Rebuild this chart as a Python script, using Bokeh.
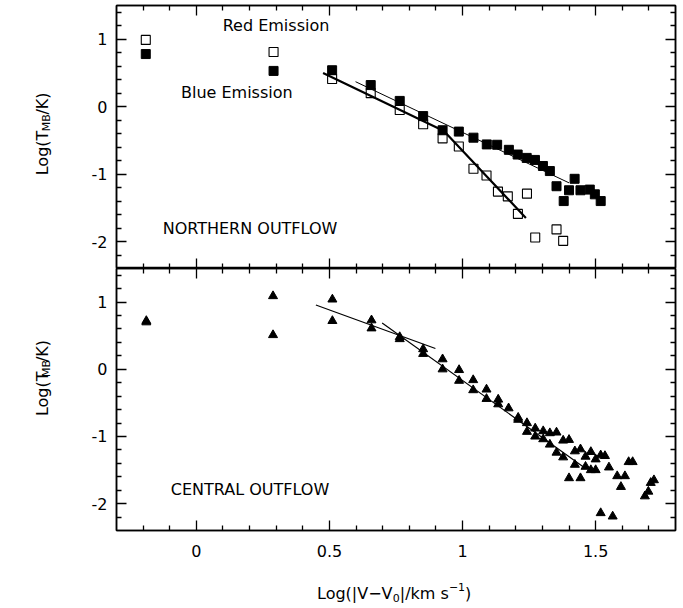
from bokeh.plotting import figure
from bokeh.layouts import column, row
from bokeh.models import LinearAxis, FixedTicker, Label, CustomJSTickFormatter, Range1d
from bokeh.embed import file_html
from bokeh.resources import INLINE

# ---------------- data ----------------
north_open_x = [-0.19, 0.29, 0.51, 0.655, 0.764, 0.852, 0.925, 0.986, 1.041, 1.09,
                1.133, 1.17, 1.208, 1.242, 1.273, 1.353, 1.378]
north_open_y = [0.99, 0.81, 0.41, 0.20, -0.05, -0.26, -0.47, -0.59, -0.92, -1.02,
                -1.26, -1.33, -1.59, -1.29, -1.94, -1.82, -1.99]

north_filled_x = [-0.19, 0.29, 0.51, 0.655, 0.764, 0.852, 0.925, 0.986, 1.041, 1.091,
                  1.13, 1.174, 1.207, 1.241, 1.272, 1.302, 1.328, 1.353, 1.38, 1.40,
                  1.421, 1.443, 1.478, 1.497, 1.519]
north_filled_y = [0.78, 0.53, 0.54, 0.32, 0.085, -0.14, -0.35, -0.37, -0.46, -0.56,
                  -0.565, -0.64, -0.71, -0.76, -0.79, -0.88, -0.955, -1.18, -1.40, -1.24,
                  -1.07, -1.24, -1.23, -1.30, -1.40]

north_open_fit_x = [0.476, 0.93, 1.238]
north_open_fit_y = [0.50, -0.36, -1.65]
north_filled_fit_x = [0.598, 1.40]
north_filled_fit_y = [0.37, -1.13]

central_x = [-0.188, -0.188, 0.288, 0.288, 0.511, 0.511, 0.658, 0.658, 0.764, 0.764,
             0.852, 0.852, 0.925, 0.925, 0.987, 0.987, 1.04, 1.04, 1.09, 1.09,
             1.134, 1.134, 1.173, 1.209, 1.209, 1.242, 1.242, 1.273, 1.273, 1.303,
             1.303, 1.328, 1.328, 1.353, 1.353, 1.378, 1.378, 1.40, 1.40, 1.422,
             1.422, 1.443, 1.443, 1.462, 1.462, 1.482, 1.482, 1.50, 1.50, 1.519,
             1.519, 1.535, 1.55, 1.564, 1.581, 1.595, 1.61, 1.624, 1.639, 1.685,
             1.698, 1.707, 1.719]
central_y = [0.72, 0.70, 1.09, 0.51, 1.04, 0.72, 0.73, 0.61, 0.48, 0.45,
             0.30, 0.23, 0.15, 0.0, -0.01, -0.17, -0.16, -0.31, -0.30, -0.44,
             -0.45, -0.52, -0.58, -0.72, -0.75, -0.80, -0.93, -0.88, -1.00, -0.92,
             -1.04, -0.95, -1.12, -0.94, -1.24, -1.06, -1.31, -1.05, -1.62, -1.22,
             -1.42, -1.19, -1.62, -1.30, -1.45, -1.23, -1.50, -1.34, -1.50, -1.28,
             -2.14, -1.29, -1.46, -2.19, -1.59, -1.75, -1.59, -1.38, -1.38, -1.89,
             -1.82, -1.69, -1.65]

central_fit1_x = [0.449, 0.898]
central_fit1_y = [0.957, 0.31]
central_fit2_x = [0.698, 1.453]
central_fit2_y = [0.69, -1.45]

x_major = [0, 0.5, 1, 1.5]
x_minor = [-0.2, -0.1, 0.1, 0.2, 0.3, 0.4, 0.6, 0.7, 0.8, 0.9, 1.1, 1.2, 1.3, 1.4, 1.6, 1.7]
y_major = [-2, -1, 0, 1]
y_minor = [-2.2, -1.8, -1.6, -1.4, -1.2, -0.8, -0.6, -0.4, -0.2, 0.2, 0.4, 0.6, 0.8, 1.2, 1.4]

# ---------------- layout constants ----------------
W = 683
STRIP = 60                 # width of the strip holding the rotated y titles
LEFT, RIGHT = 116, 675     # frame edges (page pixels)
XR = (-0.3, 1.8)
YR = (-2.4, 1.5)
FONT = "DejaVu Sans"
FS = "16px"
SFS = "11px"


def make_fig(height, top, bottom):
    p = figure(width=W - STRIP, height=height, x_range=Range1d(*XR), y_range=Range1d(*YR),
               output_backend="svg", toolbar_location=None, title=None,
               x_axis_location=None, y_axis_location=None,
               min_border_left=LEFT - STRIP, min_border_right=W - RIGHT,
               min_border_top=top, min_border_bottom=bottom)
    p.xgrid.visible = False
    p.ygrid.visible = False
    p.outline_line_color = "black"
    p.outline_line_width = 1.5
    p.background_fill_color = "white"
    p.border_fill_color = "white"
    return p


def text_strip(width, height):
    # blank figure whose frame is the whole canvas; data units == pixels (y down)
    s = figure(width=width, height=height, x_range=Range1d(0, width), y_range=Range1d(height, 0),
               output_backend="svg", toolbar_location=None, title=None,
               x_axis_location=None, y_axis_location=None, min_border=0)
    s.xgrid.visible = False
    s.ygrid.visible = False
    s.outline_line_color = None
    s.background_fill_color = "white"
    s.border_fill_color = "white"
    return s


def add_axis(p, side, labels):
    horiz = side in ("above", "below")
    ticker = FixedTicker(ticks=x_major if horiz else y_major,
                         minor_ticks=x_minor if horiz else y_minor)
    ax = LinearAxis(ticker=ticker, major_tick_in=10, major_tick_out=0,
                    minor_tick_in=5, minor_tick_out=0,
                    axis_line_color="black", axis_line_width=1.5,
                    major_tick_line_color="black", major_tick_line_width=1.3,
                    minor_tick_line_color="black", minor_tick_line_width=1.3)
    if labels:
        ax.formatter = CustomJSTickFormatter(code="return tick.toString()")
        ax.major_label_text_font = FONT
        ax.major_label_text_font_size = FS
        ax.major_label_text_color = "black"
        ax.major_label_standoff = 14 if horiz else 9
    else:
        ax.formatter = CustomJSTickFormatter(code="return ''")
        ax.major_label_text_font_size = "0px"
        ax.major_label_standoff = 0
    p.add_layout(ax, side)


def px2data(p_top, p_height):
    fx = (XR[1] - XR[0]) / (RIGHT - LEFT)
    fy = (YR[1] - YR[0]) / p_height

    def conv(px, py):
        return XR[0] + (px - LEFT) * fx, YR[1] - (py - p_top) * fy
    return conv


def label(p, conv, px, py, text, size=FS, align="left", angle=0):
    x, y = conv(px, py)
    p.add_layout(Label(x=x, y=y, text=text, text_font=FONT, text_font_size=size,
                       text_color="black", text_align=align, text_baseline="middle",
                       angle=angle, angle_units="deg"))


def ident(px, py):
    return px, py


def ylabel(s, px, py_start):
    # rotated "Log(T_MB/K)" written bottom-to-top
    label(s, ident, px, py_start, "Log(T", angle=90)
    label(s, ident, px + 4, py_start - 44.9, "MB", size=SFS, angle=90)
    label(s, ident, px, py_start - 44.9 - 17.0, "/K)", angle=90)


# ---------------- top panel: northern outflow ----------------
TOP1, H1 = 5, 263
p1 = make_fig(268, TOP1, 0)
for sd in ("left", "right", "above", "below"):
    add_axis(p1, sd, labels=(sd == "left"))
c1 = px2data(TOP1, H1)

p1.scatter(north_open_x, north_open_y, marker="square", size=9,
           fill_color=None, line_color="black", line_width=1.1)
p1.scatter(north_filled_x, north_filled_y, marker="square", size=9,
           fill_color="black", line_color="black", line_width=1)
p1.line(north_open_fit_x, north_open_fit_y, line_color="black", line_width=2.2)
p1.line(north_filled_fit_x, north_filled_fit_y, line_color="black", line_width=1)

label(p1, c1, 275.5, 25, "Red Emission", align="center")
label(p1, c1, 236.3, 92.3, "Blue Emission", align="center")
label(p1, c1, 249.5, 227.7, "NORTHERN OUTFLOW", align="center")

y1 = text_strip(STRIP, 268)
ylabel(y1, 42, 173)

# ---------------- bottom panel: central outflow ----------------
TOP2, H2 = 268, 262
p2 = make_fig(300, 0, 38)
for sd in ("left", "right", "above", "below"):
    add_axis(p2, sd, labels=(sd in ("left", "below")))
c2 = px2data(TOP2, H2)

p2.scatter(central_x, central_y, marker="triangle", size=9,
           fill_color="black", line_color="black", line_width=1)
p2.line(central_fit1_x, central_fit1_y, line_color="black", line_width=1.2)
p2.line(central_fit2_x, central_fit2_y, line_color="black", line_width=1.2)

label(p2, c2, 249.5, 489, "CENTRAL OUTFLOW", align="center")

y2 = text_strip(STRIP, 300)
ylabel(y2, 42, 437 - 268)

# ---------------- x-axis title strip: Log(|V-V0|/km s^-1) ----------------
xt = text_strip(W, 40)
xs, yc = 316.5, 25
label(xt, ident, xs, yc, "Log(|V\u2212V")
label(xt, ident, xs + 75.8, yc + 4, "0", size=SFS)
label(xt, ident, xs + 82.8, yc, "|/km s")
label(xt, ident, xs + 131.9, yc - 7, "\u22121", size=SFS)
label(xt, ident, xs + 148.1, yc, ")")

layout = column(row(y1, p1, spacing=0), row(y2, p2, spacing=0), xt, spacing=0)
open("out.html", "w").write(file_html(layout, INLINE))
